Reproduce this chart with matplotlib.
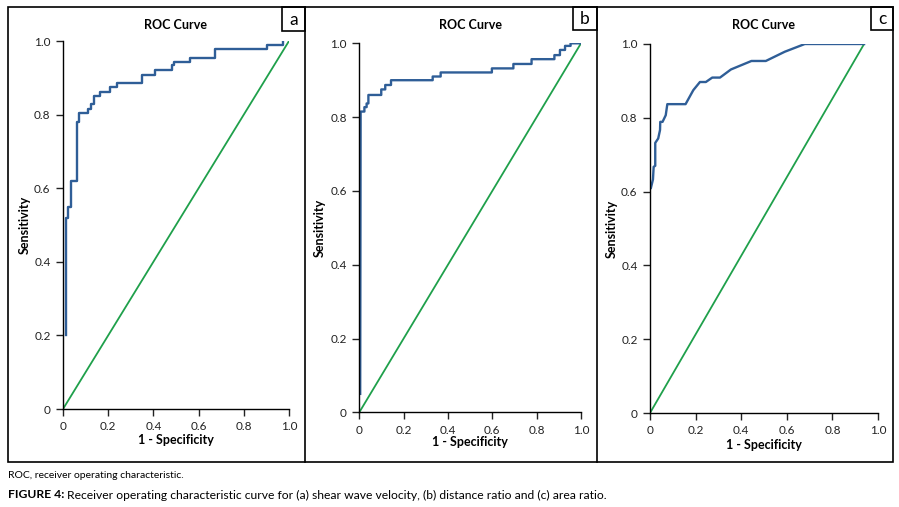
import matplotlib
matplotlib.use("Agg")
import matplotlib.pyplot as plt
from matplotlib.patches import Rectangle
from matplotlib.lines import Line2D

plt.rcParams['font.family'] = ['Lato', 'DejaVu Sans']

# ROC curve corners (1 - specificity, sensitivity)
fpr_a = [0.012, 0.012, 0.024, 0.024, 0.034, 0.034, 0.06, 0.06, 0.07, 0.07,
         0.109, 0.109, 0.122, 0.122, 0.136, 0.136, 0.164, 0.164, 0.21, 0.21,
         0.237, 0.237, 0.351, 0.351, 0.406, 0.406, 0.482, 0.482, 0.491, 0.491,
         0.562, 0.562, 0.673, 0.673, 0.901, 0.901, 0.975, 0.975]
tpr_a = [0.2, 0.52, 0.52, 0.55, 0.55, 0.62, 0.62, 0.78, 0.78, 0.805,
         0.805, 0.816, 0.816, 0.828, 0.828, 0.851, 0.851, 0.862, 0.862, 0.874,
         0.874, 0.886, 0.886, 0.908, 0.908, 0.92, 0.92, 0.935, 0.935, 0.943,
         0.943, 0.955, 0.955, 0.977, 0.977, 0.989, 0.989, 1.0]

fpr_b = [0.004, 0.006, 0.023, 0.023, 0.033, 0.033, 0.041, 0.041, 0.099, 0.099,
         0.117, 0.117, 0.143, 0.143, 0.331, 0.331, 0.367, 0.367, 0.598, 0.598,
         0.695, 0.695, 0.777, 0.777, 0.88, 0.88, 0.905, 0.905, 0.928, 0.928,
         0.953, 0.953, 0.995]
tpr_b = [0.05, 0.815, 0.815, 0.827, 0.827, 0.837, 0.837, 0.86, 0.86, 0.875,
         0.875, 0.887, 0.887, 0.90, 0.90, 0.91, 0.91, 0.921, 0.921, 0.932,
         0.932, 0.944, 0.944, 0.957, 0.957, 0.968, 0.968, 0.982, 0.982, 0.993,
         0.993, 1.0, 1.0]

fpr_c = [0.004, 0.013, 0.016, 0.023, 0.023, 0.036, 0.044, 0.045, 0.055, 0.069,
         0.076, 0.156, 0.19, 0.219, 0.245, 0.273, 0.307, 0.355, 0.445, 0.508,
         0.591, 0.679, 0.939]
tpr_c = [0.61, 0.633, 0.667, 0.67, 0.732, 0.744, 0.767, 0.789, 0.789, 0.807,
         0.837, 0.837, 0.875, 0.897, 0.897, 0.909, 0.909, 0.931, 0.954, 0.954,
         0.979, 1.0, 1.0]

# reference diagonals
diag_a = ([0, 1.0], [0, 1.0])
diag_b = ([0, 1.0], [0, 1.0])
diag_c = ([0, 0.939], [0, 1.0])

panel_labels = ["a", "b", "c"]
ticks = [0, 0.2, 0.4, 0.6, 0.8, 1.0]
tick_labels = ["0", "0.2", "0.4", "0.6", "0.8", "1.0"]

blue = "#2f5e97"
green = "#1fa04b"

W, H = 899, 507
fig = plt.figure(figsize=(W / 100, H / 100), dpi=100)

def fx(px):
    return px / W

def fy(py):
    return 1 - py / H

# axes boxes in pixels: left, right, top(1.0), bottom(0)
boxes = [(63, 289, 41, 409), (359.3, 581, 43.3, 412.3), (650, 878, 44, 413)]
curves = [(fpr_a, tpr_a, diag_a), (fpr_b, tpr_b, diag_b), (fpr_c, tpr_c, diag_c)]
ylab_x = [25, 320, 612]
xlab_y = [440, 442, 445]

for i in range(3):
    l, r, t, b = boxes[i]
    ax = fig.add_axes([fx(l), fy(b), fx(r - l), (b - t) / H])
    fpr, tpr, diag = curves[i]
    ax.plot(diag[0], diag[1], color=green, lw=1.3, solid_capstyle='butt')
    ax.plot(fpr, tpr, color=blue, lw=1.7)
    ax.set_xlim(0, 1)
    ax.set_ylim(0, 1)
    ax.set_xticks(ticks)
    ax.set_xticklabels(tick_labels)
    ax.set_yticks(ticks)
    ax.set_yticklabels(tick_labels)
    for s in ['top', 'right']:
        ax.spines[s].set_visible(False)
    for s in ['left', 'bottom']:
        ax.spines[s].set_linewidth(1.0)
    ax.tick_params(direction='out', length=5, width=1.0, labelsize=8.5,
                   colors='#222222', pad=4)
    ax.patch.set_alpha(0)
    cx = (l + r) / 2
    fig.text(fx(cx), fy(25), "ROC Curve", ha='center', va='center',
             fontsize=9, fontweight='bold')
    fig.text(fx(cx), fy(xlab_y[i]), "1 - Specificity", ha='center',
             va='center', fontsize=9, fontweight='bold')
    fig.text(fx(ylab_x[i]), fy((t + b) / 2), "Sensitivity", ha='center',
             va='center', rotation=90, fontsize=9, fontweight='bold')

# panel frames
frame = Rectangle((fx(8), fy(462)), fx(885), (462 - 7) / H, fill=False,
                  edgecolor='black', lw=1.2, transform=fig.transFigure)
fig.patches.append(frame)
for xd in [305, 597]:
    fig.lines.append(Line2D([fx(xd), fx(xd)], [fy(7), fy(462)], color='black',
                            lw=1.2, transform=fig.transFigure))

label_boxes = [(282, 305, 31), (573, 597, 30), (871, 893, 30)]
for lab, (x0, x1, yb) in zip(panel_labels, label_boxes):
    fig.patches.append(Rectangle((fx(x0), fy(yb)), fx(x1 - x0), (yb - 7) / H,
                                 fill=False, edgecolor='black', lw=1.2,
                                 transform=fig.transFigure))
    fig.text(fx((x0 + x1) / 2), fy((7 + yb) / 2 + 1), lab, ha='center',
             va='center', fontsize=12.5)

fig.text(fx(8), fy(476), "ROC, receiver operating characteristic.",
         ha='left', va='center', fontsize=7.5)
t1 = fig.text(fx(8), fy(495), "FIGURE 4:", ha='left', va='center',
              fontsize=8.7, fontweight='bold')
fig.canvas.draw()
bb = t1.get_window_extent()
fig.text(bb.x1 / W + 3 / W, fy(495),
         "Receiver operating characteristic curve for (a) shear wave velocity, "
         "(b) distance ratio and (c) area ratio.",
         ha='left', va='center', fontsize=8.7)

fig.savefig("out.png", dpi=100)
